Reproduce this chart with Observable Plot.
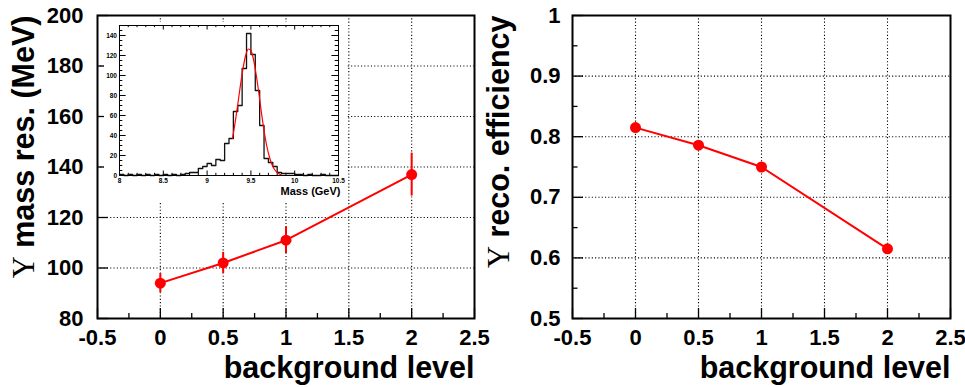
<!DOCTYPE html>
<html><head><meta charset="utf-8">
<script src="https://cdn.jsdelivr.net/npm/d3@7"></script>
<script src="https://cdn.jsdelivr.net/npm/@observablehq/plot@0.6"></script>
<style>
html,body{margin:0;padding:0;background:#fff;}
#wrap{position:relative;width:965px;height:387px;overflow:hidden;background:#fff;}
#wrap svg{position:absolute;overflow:visible;}
</style></head><body><div id="wrap"></div>
<script>
// ---------- data ----------
const bkgLevel = [0, 0.5, 1, 2];
const massRes = [94, 102, 111, 137];
const massResErr = [3.8, 4.2, 5.3, 8.5];
const recoEff = [0.815, 0.786, 0.750, 0.615];

const xTickLabels = [-0.5, 0, 0.5, 1, 1.5, 2, 2.5];
const xMinorTicks = [-0.25, 0.25, 0.75, 1.25, 1.75, 2.25];
const resTickLabels = [80, 100, 120, 140, 160, 180, 200];
const effTickLabels = [0.5, 0.6, 0.7, 0.8, 0.9, 1];
const effMinorTicks = [0.55, 0.65, 0.75, 0.85, 0.95];

// inset histogram (mass in GeV, bins of 0.05)
const massBinLow = [8.00, 8.05, 8.10, 8.15, 8.20, 8.25, 8.30, 8.35, 8.40, 8.45,
                    8.50, 8.55, 8.60, 8.65, 8.70, 8.75, 8.80, 8.85, 8.90, 8.95,
                    9.00, 9.05, 9.10, 9.15, 9.20, 9.25, 9.30, 9.35, 9.40, 9.45,
                    9.50, 9.55, 9.60, 9.65, 9.70, 9.75, 9.80, 9.85, 9.90, 9.95,
                    10.00, 10.05, 10.10, 10.15, 10.20, 10.25, 10.30, 10.35, 10.40, 10.45];
const massBinCounts = [1, 0, 1, 0, 1, 0, 1, 0, 1, 0,
                       1, 0, 1, 0, 1, 2, 3, 3, 7, 9,
                       12, 10, 16, 15, 32, 37, 64, 70, 107, 142,
                       121, 85, 50, 17, 13, 9, 3, 2, 2, 2,
                       1, 1, 0, 1, 0, 0, 1, 0, 0, 0];
const massUpperEdge = 10.5;
const fitMass = [9.29, 9.32, 9.35, 9.38, 9.41, 9.44, 9.47, 9.50, 9.53, 9.56,
                 9.59, 9.62, 9.65, 9.68, 9.71, 9.74, 9.77, 9.80, 9.83, 9.85];
const fitCounts = [37, 53, 71, 90, 107, 120, 126.5, 125, 116, 101,
                   83, 63, 45, 30, 19, 11, 6, 3, 1.2, 0.5];
const insetXTickLabels = [8, 8.5, 9, 9.5, 10, 10.5];
const insetYTickLabels = [0, 20, 40, 60, 80, 100, 120, 140];

// ---------- helpers ----------
const FONT = "'Liberation Sans', Arial, Helvetica, sans-serif";
const RED = "#ff0000";
const fmt = d => String(d);
const inner = (arr) => arr.slice(1, -1);

const resData = bkgLevel.map((x, i) => ({x, y: massRes[i], e: massResErr[i]}));
const effData = bkgLevel.map((x, i) => ({x, y: recoEff[i]}));

function serifUpsilon(svg) {
  svg.querySelectorAll("text").forEach(t => {
    const s = t.textContent;
    if (s.startsWith("Υ")) {
      t.textContent = "";
      const a = document.createElementNS("http://www.w3.org/2000/svg", "tspan");
      a.setAttribute("font-family", "'Liberation Serif', 'DejaVu Serif', serif");
      a.setAttribute("font-weight", "normal");
      a.textContent = "Υ";
      const b = document.createElementNS("http://www.w3.org/2000/svg", "tspan");
      b.textContent = s.slice(1);
      t.append(a, b);
    }
  });
}

function panel({width, marginLeft, marginRight, yDomain, yTicks, yMinor, data, err, yTitle, yPad}) {
  const fw = width - marginLeft - marginRight;
  const fh = 387 - 15 - 69;
  const grid = {stroke: "black", strokeWidth: 1.1, strokeDasharray: "1.1,2.2"};
  const marks = [
    Plot.ruleX(inner(xTickLabels), {x: d => d, ...grid}),
    Plot.ruleY(inner(yTicks), {y: d => d, ...grid}),
    Plot.ruleX(xTickLabels, {x: d => d, insetTop: fh - 10, stroke: "black", strokeWidth: 1.3}),
    Plot.ruleX(xMinorTicks, {x: d => d, insetTop: fh - 5, stroke: "black", strokeWidth: 1.3}),
    Plot.ruleY(yTicks, {y: d => d, insetRight: fw - 11, stroke: "black", strokeWidth: 1.3}),
  ];
  if (yMinor) marks.push(Plot.ruleY(yMinor, {y: d => d, insetRight: fw - 5.5, stroke: "black", strokeWidth: 1.3}));
  if (err) marks.push(Plot.ruleX(data, {x: "x", y1: d => d.y - d.e, y2: d => d.y + d.e, stroke: RED, strokeWidth: 2}));
  marks.push(
    Plot.line(data, {x: "x", y: "y", stroke: RED, strokeWidth: 2}),
    Plot.dot(data, {x: "x", y: "y", r: 5.5, fill: RED, stroke: "none"}),
    Plot.frame({stroke: "black", strokeWidth: 2}),
    Plot.text([yTitle], {text: d => d, frameAnchor: "top-left", rotate: -90, textAnchor: "end", lineAnchor: "bottom", dx: -64, fontSize: 30.5, fontWeight: "bold"}),
    Plot.text(["background level"], {text: d => d, frameAnchor: "bottom-right", textAnchor: "end", lineAnchor: "bottom", dy: 59, fontSize: 30.5, fontWeight: "bold"})
  );
  return Plot.plot({
    width, height: 387,
    marginLeft, marginRight, marginTop: 15, marginBottom: 69,
    style: {fontFamily: FONT, fontSize: "22px", fontWeight: "bold", color: "black", background: "transparent", overflow: "visible"},
    x: {domain: [-0.5, 2.5], ticks: xTickLabels, tickFormat: fmt, tickSize: 0, tickPadding: 11, label: null},
    y: {domain: yDomain, ticks: yTicks, tickFormat: fmt, tickSize: 0, tickPadding: yPad, label: null},
    marks
  });
}

const wrap = document.getElementById("wrap");

const left = panel({width: 482, marginLeft: 97, marginRight: 8, yDomain: [80, 200], yTicks: resTickLabels, yMinor: null,
  data: resData, err: true, yTitle: "Υ mass res. (MeV)", yPad: 14});
left.style.left = "0px"; left.style.top = "0px";
serifUpsilon(left);
wrap.appendChild(left);

// inset histogram
const histStep = massBinLow.map((x, i) => ({x, y: massBinCounts[i]}));
histStep.push({x: massUpperEdge, y: massBinCounts[massBinCounts.length - 1]});
const fitData = fitMass.map((x, i) => ({x, y: fitCounts[i]}));
const ifw = 242 - 15 - 8, ifh = 180 - 3 - 27;
const insetXMinor = d3.range(81, 105).map(v => v / 10).filter(v => !insetXTickLabels.includes(v));
const insetYMinor = d3.range(5, 150, 5).filter(v => v % 20 !== 0);
const inset = Plot.plot({
  width: 242, height: 180, marginLeft: 15, marginRight: 8, marginTop: 3, marginBottom: 27,
  style: {fontFamily: FONT, fontSize: "6.5px", fontWeight: "bold", color: "black", background: "white", overflow: "visible"},
  x: {domain: [8, 10.5], ticks: insetXTickLabels, tickFormat: fmt, tickSize: 0, tickPadding: 2.5, label: null},
  y: {domain: [0, 150], ticks: insetYTickLabels, tickFormat: fmt, tickSize: 0, tickPadding: 2.5, label: null},
  marks: [
    Plot.ruleY(insetYTickLabels, {y: d => d, insetRight: ifw - 6.6, stroke: "black", strokeWidth: 1}),
    Plot.ruleY(insetYTickLabels, {y: d => d, insetLeft: ifw - 6.6, stroke: "black", strokeWidth: 1}),
    Plot.ruleY(insetYMinor, {y: d => d, insetRight: ifw - 3.3, stroke: "black", strokeWidth: 1}),
    Plot.ruleY(insetYMinor, {y: d => d, insetLeft: ifw - 3.3, stroke: "black", strokeWidth: 1}),
    Plot.ruleX(insetXTickLabels, {x: d => d, insetTop: ifh - 4.5, stroke: "black", strokeWidth: 1}),
    Plot.ruleX(insetXTickLabels, {x: d => d, insetBottom: ifh - 4.5, stroke: "black", strokeWidth: 1}),
    Plot.ruleX(insetXMinor, {x: d => d, insetTop: ifh - 2.2, stroke: "black", strokeWidth: 1}),
    Plot.ruleX(insetXMinor, {x: d => d, insetBottom: ifh - 2.2, stroke: "black", strokeWidth: 1}),
    Plot.line(histStep, {x: "x", y: "y", curve: "step-after", stroke: "#111", strokeWidth: 1.3}),
    Plot.line(fitData, {x: "x", y: "y", curve: "monotone-x", stroke: RED, strokeWidth: 1.2}),
    Plot.frame({stroke: "black", strokeWidth: 1}),
    Plot.text(["Mass (GeV)"], {text: d => d, frameAnchor: "bottom-right", textAnchor: "end", lineAnchor: "bottom", dx: 2, dy: 19, fontSize: 11, fontWeight: "bold"})
  ]
});
inset.style.left = "104px"; inset.style.top = "22px";
wrap.appendChild(inset);

const right = panel({width: 483, marginLeft: 90, marginRight: 15, yDomain: [0.5, 1], yTicks: effTickLabels, yMinor: effMinorTicks,
  data: effData, err: false, yTitle: "Υ reco. efficiency", yPad: 12});
right.style.left = "482px"; right.style.top = "0px";
serifUpsilon(right);
wrap.appendChild(right);
</script>
</body></html>
